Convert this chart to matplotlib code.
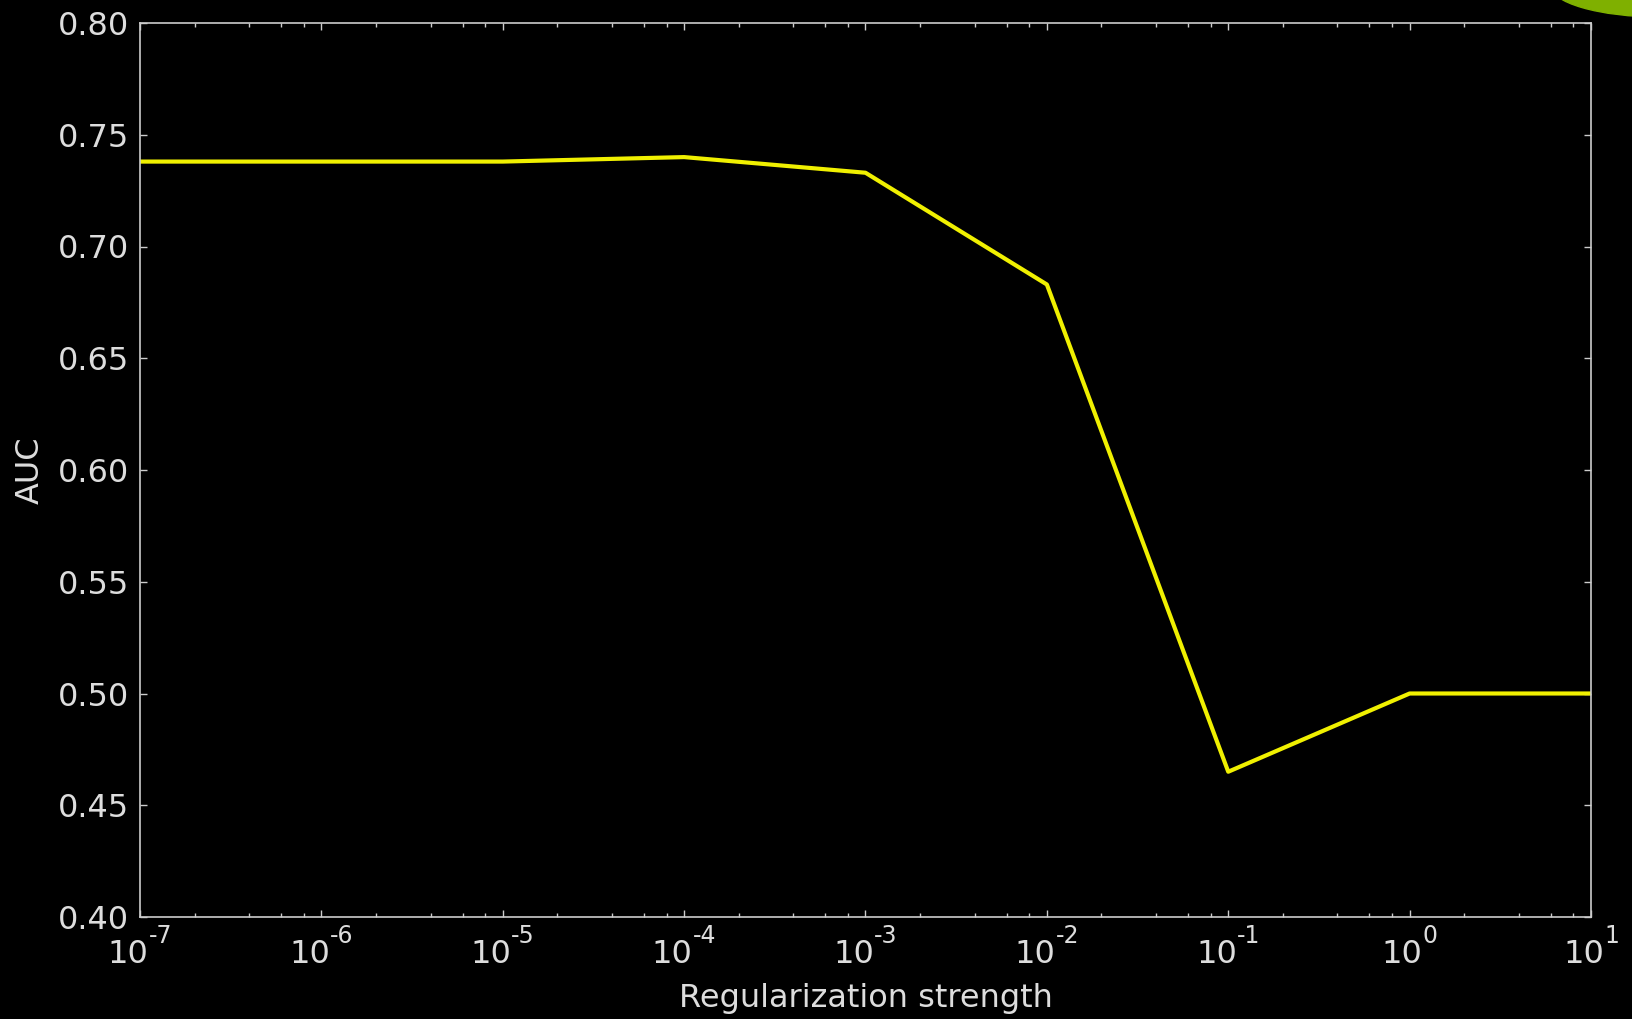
import numpy as np
import matplotlib
matplotlib.use("Agg")
import matplotlib.pyplot as plt
from matplotlib.patches import Ellipse
from matplotlib.ticker import FormatStrFormatter, LogLocator, NullFormatter

# regularization strength vs AUC
strength = [1e-7, 1e-6, 1e-5, 1e-4, 1e-3, 1e-2, 1e-1, 1e0, 1e1]
auc = [0.738, 0.738, 0.738, 0.740, 0.733, 0.683, 0.465, 0.500, 0.500]

# x tick labels are 10^e
x_exponents = [-7, -6, -5, -4, -3, -2, -1, 0, 1]

TEXT = "#dddddd"
SPINE = "#cccccc"

fig = plt.figure(figsize=(16.33, 10.19), dpi=100, facecolor="black")
ax = fig.add_axes([140 / 1633, 1 - 917 / 1019, (1591 - 140) / 1633, (917 - 23) / 1019])
ax.set_facecolor("black")

ax.plot(strength, auc, color="#f0f000", lw=3)

ax.set_xscale("log")
ax.set_xlim(1e-7, 1e1)
ax.set_ylim(0.40, 0.80)
ax.set_yticks(np.arange(0.40, 0.801, 0.05))
ax.yaxis.set_major_formatter(FormatStrFormatter("%.2f"))
ax.set_xticks([10.0 ** e for e in x_exponents])
ax.xaxis.set_minor_locator(LogLocator(base=10, subs=(2, 4, 6, 8)))
ax.xaxis.set_major_formatter(NullFormatter())

for s in ax.spines.values():
    s.set_color(SPINE)
    s.set_linewidth(1.2)
ax.tick_params(which="both", direction="in", top=True, right=True, colors=SPINE,
               labelcolor=TEXT, labelsize=23)
ax.tick_params(which="major", length=5, width=1, pad=8)
ax.tick_params(which="minor", length=3, width=1)

ax.set_xlabel("Regularization strength", fontsize=23, color=TEXT, va="baseline")
ax.xaxis.set_label_coords(0.5, -(1007 - 917) / 894)
ax.set_ylabel("AUC", fontsize=23, color=TEXT, va="baseline")
ax.yaxis.set_label_coords(-(140 - 39) / 1451, 0.5)

# x tick labels: "10" with a raised exponent, centred on the tick
renderer = fig.canvas.get_renderer()
xform = ax.get_xaxis_transform()
for e in x_exponents:
    base = ax.annotate("10", xy=(10.0 ** e, 0), xycoords=xform, xytext=(0, -46),
                       textcoords="offset pixels", ha="left", va="baseline",
                       fontsize=23, color=TEXT)
    sup = ax.annotate(str(e), xy=(10.0 ** e, 0), xycoords=xform, xytext=(0, -26),
                      textcoords="offset pixels", ha="left", va="baseline",
                      fontsize=17, color=TEXT)
    w1 = base.get_window_extent(renderer).width
    w2 = sup.get_window_extent(renderer).width
    left = -(w1 + w2) / 2
    base.xyann = (left, -46)
    sup.xyann = (left + w1, -26)

# green decoration from the slide, top-right corner
fig.patches.append(Ellipse((1660 / 1633, 1 + 15 / 1019), 220 / 1633, 64 / 1019,
                           transform=fig.transFigure, color="#7fb000", zorder=5))

fig.savefig("out.png", dpi=100, facecolor="black")
